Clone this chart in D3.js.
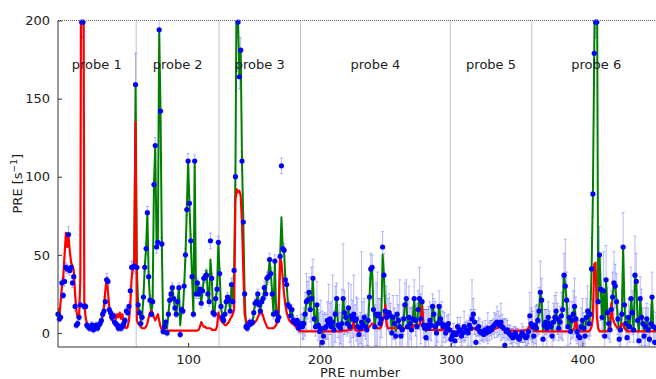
<!DOCTYPE html>
<html>
<head>
<meta charset="utf-8">
<script src="https://cdn.jsdelivr.net/npm/d3@7"></script>
<style>
body { margin: 0; background: #fff; }
text { font-family: "DejaVu Sans", sans-serif; }
</style>
</head>
<body>
<div id="chart"></div>
<script>
// probe sections (PRE number boundaries) and labels
const probeNames = ['probe 1', 'probe 2', 'probe 3', 'probe 4', 'probe 5', 'probe 6']
const probeEdges = [0.5, 60.5, 123.5, 185.5, 299.5, 361.5, 459.5]
const probeStarts = [1, 61, 124, 186, 300, 362]
const xTicks = [100, 200, 300, 400]
const yTicks = [0, 50, 100, 150, 200]

// measured PRE values per probe
const pre1 = [12, 9, 10, 32, 24, 33, 42, 41, 63, 40,
  42, 32, 36, 17, 5, 6, 10, 18, 199, 199,
  17, 17, 5, 4, 3, 4, 5, 2, 4, 5,
  3, 5, 6, 8, 12, 14, 20, 34, 33, 15,
  13, 10, 11, 7, 6, 5, 3, 4, 3, 4,
  6, 8, 14, 13, 17, 27, 42, 42, 43, 159]
const pre2 = [42, 18, 13, 6, 10, 23, 42, 54, 77, 36,
  21, 12, 20, 95, 120, 55, 58, 194, 142, 57,
  1, 4, 7, 0, 12, 21, 25, 29, 22, 16,
  12, 20, 29, -1, 15, 14, 30, 50, 79, 110,
  83, 59, 36, 12, 110, 25, 32, 25, 28, 19,
  27, 35, 36, 37, 25, 20, 59, 35, 13, 12,
  22, 28, 58]
const pre3 = [38, 17, 10, 8, 12, 20, 23, 21, 14, 31,
  20, 40, 100, 240, 199, 164, 181, 110, 71, 25,
  4, 3, 5, 7, 6, 7, 13, 19, 20, 25,
  18, 14, 20, 22, 29, 25, 35, 36, 47, 38,
  25, 12, 46, 13, 8, 10, 49, 107, 54, 53,
  34, 31, 18, 17, 11, 15, 8, 7, 6, 8,
  3, 5]
const pre4 = [6, 4, 6, 12, 20, 21, 26, 15, 22, 35,
  9, 4, 18, 5, 1, 3, -6, -2, 3, 4,
  8, 6, 9, 4, 7, 2, 12, 22, 5, 4,
  3, 6, 22, 13, 10, 6, 16, 4, 11, 9,
  12, 8, 9, 4, -1, 3, 7, 5, 10, 4,
  2, 8, 23, 41, 42, 15, 4, 12, 11, 12,
  6, 9, 55, 37, 14, 10, 12, 13, 11, 0,
  10, 6, -2, 12, 8, 4, -2, 2, 9, 18,
  22, 4, 10, 6, 2, 9, 22, 8, 4, 15,
  22, 9, 20, 5, 3, -3, 5, 3, 8, 5,
  17, 12, 4, 0, 6, 17, 9, 6, 4, 5,
  0, 3, 6, 2]
const pre5 = [-4, -2, 0, -5, -1, 4, 1, 2, -2, 0,
  4, 1, 2, 0, 5, 3, 9, 12, 7, -6,
  3, 4, 1, 0, 1, -1, 2, 0, 3, 1,
  3, 2, 4, 5, 6, 7, 6, 5, 7, 4,
  3, -8, 1, 2, 0, -1, -2, -3, -1, 0,
  -2, -3, -4, -2, 0, -1, -2, -3, -2, 1,
  11, 6]
const pre6 = [4, -2, 5, 3, 8, 14, 26, 21, -4, 5,
  7, 3, 10, 6, 4, -2, 7, 10, 14, 9,
  3, 7, 11, 15, 37, 30, 21, 4, 10, 1,
  8, 12, 17, 9, 1, -2, -3, 4, 8, 3,
  -2, 10, 14, 6, 12, 41, 89, 179, 199, 199,
  20, 50, 28, 10, 27, -2, 34, 13, 6, 2,
  15, 23, 32, 30, 20, 9, -4, 2, 12, 55,
  18, 6, -3, 10, 4, 22, 13, 2, 37, 33,
  8, -5, 22, 10, 6, -2, 4, 9, 2, -4,
  6, 23, 4, -6, 3]

// error bar half-lengths
const err1 = [2, 2, 2, 3, 2, 3, 3, 3, 5, 3,
  3, 3, 4, 3, 2, 2, 2, 2, 10, 10,
  2, 2, 2, 2, 2, 3, 2, 2, 2, 2,
  2, 2, 2, 2, 2, 3, 3, 4, 3, 2,
  2, 2, 2, 2, 2, 2, 2, 2, 2, 2,
  2, 2, 2, 2, 3, 3, 4, 4, 4, 20]
const err2 = [4, 3, 2, 2, 2, 3, 3, 4, 4, 3,
  3, 2, 3, 4, 5, 4, 4, 6, 6, 4,
  2, 2, 2, 2, 2, 3, 3, 3, 3, 2,
  2, 3, 3, 2, 2, 2, 3, 4, 4, 5,
  4, 4, 4, 2, 4, 3, 3, 3, 3, 3,
  3, 3, 4, 4, 3, 3, 5, 3, 2, 2,
  3, 3, 4]
const err3 = [3, 3, 2, 2, 3, 3, 3, 3, 3, 4,
  3, 4, 5, 10, 10, 8, 8, 6, 5, 3,
  2, 2, 2, 2, 2, 2, 3, 3, 3, 3,
  3, 3, 3, 3, 4, 3, 4, 4, 4, 4,
  3, 3, 4, 3, 2, 2, 4, 5, 4, 4,
  3, 3, 3, 3, 3, 3, 3, 3, 3, 3,
  3, 3]
const err4 = [6, 8, 10, 14, 18, 12, 10, 8, 20, 12,
  8, 6, 15, 10, 12, 18, 20, 14, 10, 8,
  12, 25, 10, 16, 30, 12, 18, 10, 8, 14,
  10, 22, 35, 14, 10, 8, 16, 10, 20, 12,
  25, 10, 14, 18, 12, 10, 45, 15, 12, 8,
  10, 16, 12, 10, 8, 12, 14, 20, 28, 10,
  16, 12, 10, 14, 10, 20, 10, 12, 8, 10,
  14, 10, 8, 12, 10, 30, 12, 16, 10, 14,
  12, 18, 20, 10, 14, 8, 12, 10, 15, 12,
  20, 16, 10, 8, 12, 18, 10, 14, 12, 10,
  8, 10, 16, 8, 12, 10, 8, 14, 10, 8,
  6, 8, 6, 5]
const err5 = [4, 5, 6, 4, 5, 6, 5, 8, 6, 5,
  10, 6, 5, 8, 6, 12, 25, 10, 8, 6,
  5, 6, 8, 5, 6, 5, 6, 5, 10, 6,
  5, 6, 5, 8, 6, 10, 8, 6, 12, 8,
  6, 17, 8, 6, 5, 6, 5, 6, 5, 4,
  5, 6, 5, 4, 6, 5, 4, 5, 6, 8,
  15, 10]
const err6 = [10, 8, 12, 15, 10, 15, 20, 14, 8, 10,
  8, 12, 10, 8, 6, 10, 12, 14, 12, 10,
  8, 10, 15, 20, 14, 30, 18, 12, 10, 8,
  12, 15, 18, 14, 8, 10, 8, 12, 14, 10,
  8, 12, 16, 10, 14, 20, 15, 20, 10, 10,
  15, 18, 20, 12, 25, 14, 22, 16, 10, 8,
  12, 16, 20, 14, 18, 10, 8, 12, 15, 22,
  14, 10, 8, 12, 10, 20, 14, 8, 25, 18,
  12, 10, 14, 18, 10, 8, 12, 10, 14, 10,
  12, 16, 10, 8, 10]

// red model curve
const red1 = [16, 10, 20, 30, 36, 50, 64, 55, 62, 52,
  45, 43, 40, 25, 14, 10, 9, 35, 400, 400,
  20, 10, 6, 4, 4, 3, 3, 3, 3, 4,
  4, 5, 6, 8, 11, 17, 27, 35, 27, 16,
  10, 8, 10, 12, 9, 12, 10, 13, 9, 12,
  6, 4, 3, 4, 8, 18, 35, 42, 45, 135]
const red2 = [8, 6, 5, 4, 3, 3, 3, 4, 6, 10,
  13, 14, 13, 10, 8, 10, 12, 8, 4, 2,
  1.5, 1.5, 1.5, 1.5, 1.5, 1.5, 1.5, 1.5, 1.5, 1.5,
  1.5, 1.5, 1.5, 1.5, 1.5, 1.5, 1.5, 1.5, 1.5, 1.5,
  1.5, 1.5, 1.5, 1.5, 1.5, 1.5, 1.5, 2, 4, 7,
  5, 4, 4, 3, 3, 3, 3, 2, 2, 2,
  2, 4, 13]
const red3 = [10, 8, 7, 6, 5, 5, 6, 7, 9, 10,
  12, 15, 85, 92, 90, 91, 88, 70, 40, 12,
  8, 6, 5, 5, 5, 6, 6, 7, 8, 10,
  12, 13, 13, 11, 8, 6, 4, 3, 3, 3,
  3, 3, 4, 5, 8, 20, 48, 45, 35, 25,
  18, 13, 10, 8, 7, 6, 6, 5, 4, 3,
  2, 1]
const red4 = [1.5, 1, 1, 1, 1, 1, 1, 1, 1, 1,
  1, 1, 1, 1, 1, 1, 1, 1, 1, 1,
  1, 1, 1, 1, 1, 1, 1, 1, 1, 1,
  1, 1, 1.5, 1.5, 1.5, 1.5, 2, 2, 2, 3,
  8, 2, 1.5, 1.5, 1.5, 1.5, 1.5, 2, 2, 2,
  2, 3, 4, 5, 6, 6, 5, 4, 3, 3,
  3, 4, 8, 10, 18, 6, 3, 3, 3, 3,
  3, 3, 3, 3, 3, 3, 3, 3, 3, 3,
  3, 3, 3, 3, 3, 4, 5, 5, 4, 4,
  5, 8, 17, 6, 3, 2, 2, 2, 2, 2,
  2, 2, 2, 2, 2, 2, 2, 2, 2, 2,
  2, 3, 4, 2]
const red5 = [1, 1, 1, 1, 1, 1, 1, 1, 1.5, 1.5,
  1.5, 1.5, 1.5, 1.5, 1.5, 2, 2, 3, 3, 2,
  1.5, 1.5, 1, 1, 1, 1, 1, 1.5, 1.5, 2,
  2, 2, 2, 2.5, 3, 3, 3.5, 4, 3.5, 3,
  2.5, 2, 2, 1.5, 1.5, 1.5, 1.5, 1.5, 1.5, 1.5,
  1.5, 1.5, 1.5, 1.5, 1.5, 1.5, 1.5, 2, 2, 3,
  5, 3]
const red6 = [4, 2, 1, 1, 1, 1, 1, 1, 1, 1,
  1, 1, 1, 1, 1, 1, 1, 1, 1, 1,
  1, 1, 1, 1, 1, 1, 1, 1, 1, 1,
  1, 2, 3, 10, 3, 1, 1, 1, 1, 1,
  1, 1, 1, 1, 2, 4, 10, 44, 45, 10,
  3, 1, 1, 1, 1, 1, 1, 1, 2, 6,
  19, 10, 7, 5, 4, 3, 3, 4, 6, 5,
  3, 2, 1, 1, 1, 1, 1, 1, 1, 1,
  1, 1, 1, 1, 1, 1, 1, 1, 1, 1,
  1, 1, 1, 1, 1]

// green model curve (hidden under red in probes 1 and 5)
const greenStarts = [59, 61, 124, 186, 362]
const green1 = [43, 159]
const green2 = [42, 18, 13, 8, 10, 23, 42, 54, 77, 36,
  21, 12, 20, 95, 120, 55, 58, 194, 142, 57,
  3, 4, 7, 3, 12, 21, 25, 29, 22, 16,
  12, 20, 29, 5, 15, 14, 30, 50, 79, 110,
  83, 59, 36, 12, 110, 25, 32, 25, 28, 19,
  27, 35, 36, 40, 25, 20, 47, 35, 13, 12,
  22, 28, 58]
const green3 = [38, 17, 10, 8, 12, 20, 23, 21, 14, 31,
  20, 40, 100, 240, 200, 164, 181, 110, 71, 25,
  4, 3, 5, 7, 6, 7, 13, 19, 20, 25,
  18, 14, 20, 22, 29, 25, 35, 36, 47, 38,
  25, 12, 46, 13, 8, 10, 49, 74, 54, 53,
  34, 31, 18, 17, 11, 15, 8, 7, 6, 8,
  3, 5]
const green4 = [6, 4, 6, 12, 20, 21, 26, 15, 22, 35,
  9, 4, 18, 5, 1, 3, 0, 1, 3, 4,
  8, 6, 9, 4, 7, 2, 12, 22, 5, 4,
  3, 6, 22, 13, 10, 6, 16, 4, 11, 9,
  12, 8, 9, 4, 1, 3, 7, 5, 10, 4,
  2, 8, 23, 41, 42, 15, 4, 12, 11, 12,
  6, 9, 50, 37, 14, 10, 12, 13, 11, 2,
  10, 6, 1, 12, 8, 4, 1, 2, 9, 18,
  22, 4, 10, 6, 2, 9, 22, 8, 4, 15,
  22, 9, 20, 5, 3, 1, 5, 3, 8, 5,
  17, 12, 4, 2, 6, 17, 9, 6, 4, 5,
  2, 3, 6, 2]
const green6 = [4, 1, 5, 3, 8, 14, 26, 21, 1, 5,
  7, 3, 10, 6, 4, 1, 7, 10, 14, 9,
  3, 7, 11, 15, 37, 30, 21, 4, 10, 1,
  8, 12, 17, 9, 1, 1, 1, 4, 8, 3,
  1, 10, 14, 6, 12, 41, 89, 179, 260, 260,
  20, 50, 28, 10, 27, 1, 34, 13, 6, 2,
  15, 23, 32, 30, 20, 9, 1, 2, 12, 55,
  18, 6, 1, 10, 4, 22, 13, 2, 37, 33,
  8, 1, 22, 10, 6, 1, 4, 9, 2, 1,
  6, 23, 4, 1, 3]

const preSets = [pre1, pre2, pre3, pre4, pre5, pre6]
const errSets = [err1, err2, err3, err4, err5, err6]
const redSets = [red1, red2, red3, red4, red5, red6]
const greenSets = [green1, green2, green3, green4, green6]

const width = 656
const height = 379
const margin = { top: 20.5, right: 0, bottom: 32, left: 58 }

const points = []
const redLine = []
preSets.forEach((arr, p) => {
  arr.forEach((v, k) => {
    const n = probeStarts[p] + k
    points.push({ n: n, v: v, e: errSets[p][k] })
    redLine.push({ n: n, v: redSets[p][k] })
  })
})

const greenLine = []
greenSets.forEach((arr, p) => {
  if (p > 0) {
    const prevEnd = greenStarts[p - 1] + greenSets[p - 1].length
    if (greenStarts[p] > prevEnd) greenLine.push({ n: prevEnd, v: null })
  }
  arr.forEach((v, k) => greenLine.push({ n: greenStarts[p] + k, v: v }))
})

const x = d3.scaleLinear().domain([1, 456]).range([margin.left, width - margin.right])
const y = d3.scaleLinear().domain([-9, 200]).range([height - margin.bottom, margin.top])

const svg = d3.select('#chart').append('svg')
  .attr('width', width)
  .attr('height', height)

svg.append('defs').append('clipPath')
  .attr('id', 'plotClip')
  .append('rect')
  .attr('x', margin.left)
  .attr('y', margin.top)
  .attr('width', width - margin.left - margin.right)
  .attr('height', height - margin.top - margin.bottom)

// probe separators
svg.append('g')
  .selectAll('line')
  .data(probeEdges.slice(1, -1))
  .enter()
  .append('line')
  .attr('x1', d => x(d))
  .attr('x2', d => x(d))
  .attr('y1', margin.top)
  .attr('y2', height - margin.bottom)
  .attr('stroke', '#888')
  .attr('stroke-width', 1)
  .attr('stroke-dasharray', '1,1')

const plot = svg.append('g').attr('clip-path', 'url(#plotClip)')

// error bars
const bars = plot.append('g')
  .attr('stroke', '#0000ff')
  .attr('stroke-opacity', 0.28)
  .attr('stroke-width', 1)
bars.selectAll('line.bar')
  .data(points)
  .enter()
  .append('line')
  .attr('class', 'bar')
  .attr('x1', d => x(d.n))
  .attr('x2', d => x(d.n))
  .attr('y1', d => y(d.v - d.e))
  .attr('y2', d => y(d.v + d.e))
bars.selectAll('line.cap')
  .data(points.flatMap(d => [{ n: d.n, v: d.v - d.e }, { n: d.n, v: d.v + d.e }]))
  .enter()
  .append('line')
  .attr('class', 'cap')
  .attr('x1', d => x(d.n) - 1.5)
  .attr('x2', d => x(d.n) + 1.5)
  .attr('y1', d => y(d.v))
  .attr('y2', d => y(d.v))

const line = d3.line()
  .defined(d => d.v !== null)
  .x(d => x(d.n))
  .y(d => y(d.v))

plot.append('path')
  .datum(greenLine)
  .attr('fill', 'none')
  .attr('stroke', '#008000')
  .attr('stroke-width', 2)
  .attr('stroke-linejoin', 'round')
  .attr('d', line)

plot.append('path')
  .datum(redLine)
  .attr('fill', 'none')
  .attr('stroke', '#ff0000')
  .attr('stroke-width', 2.2)
  .attr('stroke-linejoin', 'round')
  .attr('d', line)

svg.append('g')
  .selectAll('circle')
  .data(points.filter(d => d.v <= 200))
  .enter()
  .append('circle')
  .attr('cx', d => x(d.n))
  .attr('cy', d => y(d.v))
  .attr('r', 2.6)
  .attr('fill', '#0000ff')

// frame
const x0 = margin.left
const x1 = width - margin.right
const yTop = margin.top
const yBot = height - margin.bottom
svg.append('line')
  .attr('x1', x0).attr('x2', x1).attr('y1', yTop).attr('y2', yTop)
  .attr('stroke', '#666').attr('stroke-width', 1).attr('stroke-dasharray', '1,1')
svg.append('line')
  .attr('x1', x0).attr('x2', x1).attr('y1', yBot).attr('y2', yBot)
  .attr('stroke', '#333').attr('stroke-width', 1)
svg.append('line')
  .attr('x1', x0).attr('x2', x0).attr('y1', yTop).attr('y2', yBot)
  .attr('stroke', '#333').attr('stroke-width', 1)

// axes with inward ticks
const yAxis = svg.append('g')
  .attr('transform', `translate(${x0},0)`)
  .call(d3.axisLeft(y).tickValues(yTicks).tickSize(-4).tickPadding(8).tickFormat(d3.format('d')))
yAxis.select('.domain').remove()
yAxis.selectAll('line').attr('stroke', '#333')
yAxis.selectAll('text').attr('font-size', 13).attr('fill', '#222')
  .attr('font-family', '"DejaVu Sans", sans-serif')

const xAxis = svg.append('g')
  .attr('transform', `translate(0,${yBot})`)
  .call(d3.axisBottom(x).tickValues(xTicks).tickSize(-4).tickPadding(8).tickFormat(d3.format('d')))
xAxis.select('.domain').remove()
xAxis.selectAll('line').attr('stroke', '#333')
xAxis.selectAll('text').attr('font-size', 13).attr('fill', '#222')
  .attr('font-family', '"DejaVu Sans", sans-serif')

// probe labels
svg.append('g')
  .selectAll('text')
  .data(probeNames)
  .enter()
  .append('text')
  .attr('x', (d, i) => x((probeEdges[i] + probeEdges[i + 1]) / 2))
  .attr('y', 69)
  .attr('text-anchor', 'middle')
  .attr('font-size', 13)
  .attr('fill', '#222')
  .text(d => d)

// axis titles
svg.append('text')
  .attr('x', 360)
  .attr('y', 377)
  .attr('text-anchor', 'middle')
  .attr('font-size', 13)
  .attr('fill', '#222')
  .text('PRE number')

const yTitle = svg.append('text')
  .attr('transform', `translate(22,${(yTop + yBot) / 2}) rotate(-90)`)
  .attr('text-anchor', 'middle')
  .attr('font-size', 13)
  .attr('fill', '#222')
yTitle.append('tspan').text('PRE [s')
yTitle.append('tspan').attr('font-size', 9).attr('dy', -5).text('\u22121')
yTitle.append('tspan').attr('dy', 5).text(']')
</script>
</body>
</html>
